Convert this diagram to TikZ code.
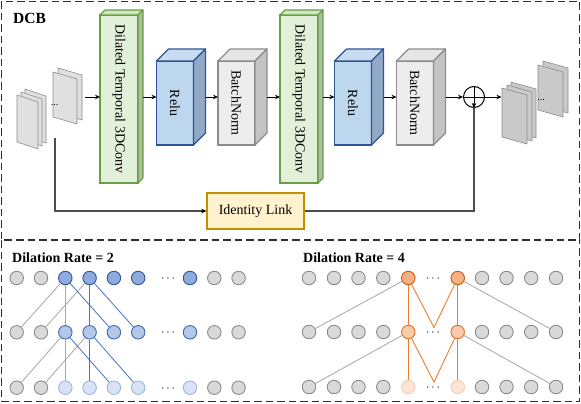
\documentclass[tikz,border=0pt]{standalone}
\usepackage{fontspec}
\setmainfont{Liberation Serif}
\usetikzlibrary{arrows.meta}
\definecolor{dtcfill}{HTML}{E2F0D9}
\definecolor{dtcborder}{HTML}{6A9E45}
\definecolor{dtctop}{HTML}{CFE6BF}
\definecolor{dtcside}{HTML}{A9C09C}
\definecolor{relfill}{HTML}{BDD7EE}
\definecolor{relborder}{HTML}{2F5597}
\definecolor{reltop}{HTML}{C7DCF0}
\definecolor{relside}{HTML}{91A9C6}
\definecolor{bnfill}{HTML}{EDEDED}
\definecolor{bnborder}{HTML}{8C8C8C}
\definecolor{bntop}{HTML}{E6E6E6}
\definecolor{bnside}{HTML}{C4C4C4}
\definecolor{idfill}{HTML}{FFF2CC}
\definecolor{idborder}{HTML}{BF9000}
\definecolor{linkc}{HTML}{4D4D4D}
\definecolor{framec}{HTML}{2E2E2E}
\definecolor{sheetin}{HTML}{E0E0E0}
\definecolor{sheetout}{HTML}{C9C9C9}
\definecolor{sheetb}{HTML}{8C8C8C}
\definecolor{grayf}{HTML}{D9D9D9}
\definecolor{grayb}{HTML}{8C8C8C}
\definecolor{grayl}{HTML}{A6A6A6}
\definecolor{bluef1}{HTML}{8FAADC}
\definecolor{bluef2}{HTML}{B4C7E7}
\definecolor{bluef3}{HTML}{DAE3F3}
\definecolor{blueb1}{HTML}{2F5597}
\definecolor{blueb2}{HTML}{3D68B5}
\definecolor{blueb3}{HTML}{9DB5E3}
\definecolor{bluel}{HTML}{4472C4}
\definecolor{bluell}{HTML}{8FAADC}
\definecolor{orf1}{HTML}{F4B183}
\definecolor{orf2}{HTML}{F8CBAD}
\definecolor{orf3}{HTML}{FBE5D6}
\definecolor{orb1}{HTML}{C55A11}
\definecolor{orb2}{HTML}{E07028}
\definecolor{orb3}{HTML}{F8CBAD}
\definecolor{orl}{HTML}{ED7D31}

\newcommand{\mycuboid}[7]{%
  \node[frontface, draw=#7border, fill=#7fill, minimum width=#4pt, minimum height=#5pt] (#1) at (#2,#3) {};
  \draw[faceline, draw=#7border, fill=#7top] (#1.north west) -- ++(#6,-#6) -- ++(#4,0) -- (#1.north east) -- cycle;
  \draw[faceline, draw=#7border, fill=#7side] (#1.north east) -- ++(#6,-#6) -- ++(0,#5) -- (#1.south east) -- cycle;
}
\newcommand{\mysheet}[6]{%
  \draw[line width=0.6pt, draw=sheetb, fill=#6, line join=round] (#1,#2) -- ++(#3,#5) -- ++(0,#4) -- ++(-#3,-#5) -- cycle;
}

\begin{document}
\begin{tikzpicture}[x=1pt,y=-1pt,
  frontface/.style={line width=1.2pt, inner sep=0pt, outer sep=0pt},
  faceline/.style={line width=1.2pt, line join=round},
  lbl/.style={font=\fontsize{14}{16}\selectfont, rotate=-90, inner sep=0pt},
  arr/.style={-{Stealth[length=5pt,width=4.5pt]}, line width=0.8pt, black},
  link/.style={line width=1.1pt, draw=linkc},
  frame/.style={draw=framec, line width=1.5pt, dash pattern=on 7.5pt off 4pt},
  dot/.style={circle, minimum size=13.5pt, inner sep=0pt, line width=0.9pt},
  grayc/.style={dot, draw=grayb, fill=grayf},
  blueA/.style={dot, draw=blueb1, fill=bluef1},
  blueB/.style={dot, draw=blueb2, fill=bluef2},
  blueC/.style={dot, draw=blueb3, fill=bluef3},
  orA/.style={dot, draw=orb1, fill=orf1},
  orB/.style={dot, draw=orb2, fill=orf2},
  orC/.style={dot, draw=orb3, fill=orf3},
  gline/.style={draw=grayl, line width=0.8pt},
  bline/.style={draw=bluel, line width=0.8pt},
  blline/.style={draw=bluell, line width=1pt},
  oline/.style={draw=orl, line width=0.9pt},
  cdt/.style={font=\fontsize{13}{15}\selectfont, anchor=base, inner sep=0pt},
  title/.style={font=\fontsize{14}{16}\selectfont\bfseries, anchor=base west, inner sep=0pt}
]
\useasboundingbox (0,0) rectangle (581,404);

% frames
\draw[frame] (1.5,1.5) rectangle (579.5,240);
\draw[frame] (1.5,240) -- (1.5,401.5) -- (579.5,401.5) -- (579.5,240);
\node[font=\fontsize{15.5}{17}\selectfont\bfseries, anchor=base west, inner sep=0pt] (dcb) at (13,23.5) {DCB};

% input feature maps
\mysheet{25}{89}{21}{47}{7}{sheetin}
\mysheet{21}{92}{21}{47}{7}{sheetin}
\mysheet{17}{95}{21}{47}{7}{sheetin}
\mysheet{58}{68}{24}{45}{7}{sheetin}
\mysheet{53}{72}{24}{45}{7}{sheetin}
\node[font=\fontsize{10}{12}\selectfont, anchor=base, inner sep=0pt] (indots) at (54.5,106) {...};
\coordinate (inR) at (85,97);
\coordinate (inB) at (55,138);

% blocks
\mycuboid{dtc1}{119}{99}{38}{168}{5}{dtc}
\mycuboid{relu1}{175}{103}{37}{84}{12}{rel}
\mycuboid{bn1}{236.5}{103}{37}{84}{12}{bn}
\mycuboid{dtc2}{299}{99}{38}{168}{5}{dtc}
\mycuboid{relu2}{353}{103}{37}{84}{12}{rel}
\mycuboid{bn2}{415}{103}{37}{84}{12}{bn}
\node[lbl] at (dtc1) {Dilated Temporal 3DConv};
\node[lbl] at (dtc2) {Dilated Temporal 3DConv};
\node[lbl] at (relu1) {Relu};
\node[lbl] at (relu2) {Relu};
\node[lbl] at (bn1) {BatchNorm};
\node[lbl] at (bn2) {BatchNorm};

% adder
\node[circle, draw=black, line width=1pt, minimum size=21pt, inner sep=0pt] (add) at (474,97) {};
\draw[line width=1pt] (add.north) -- (add.south) (add.west) -- (add.east);

% output feature maps
\mysheet{511}{82}{25}{49}{7}{sheetout}
\mysheet{507}{85}{25}{49}{7}{sheetout}
\mysheet{502}{88}{25}{49}{7}{sheetout}
\mysheet{543}{61}{25}{45}{7}{sheetout}
\mysheet{538}{65}{25}{45}{7}{sheetout}
\node[font=\fontsize{10}{12}\selectfont, anchor=base, inner sep=0pt] (outdots) at (541,100) {...};
\coordinate (outL) at (501.5,97);

% arrows
\draw[arr] (inR) -- (dtc1.west |- inR);
\draw[arr] ([xshift=5pt]dtc1.east |- inR) -- (relu1.west |- inR);
\draw[arr] ([xshift=12pt]relu1.east |- inR) -- (bn1.west |- inR);
\draw[arr] ([xshift=12pt]bn1.east |- inR) -- (dtc2.west |- inR);
\draw[arr] ([xshift=5pt]dtc2.east |- inR) -- (relu2.west |- inR);
\draw[arr] ([xshift=12pt]relu2.east |- inR) -- (bn2.west |- inR);
\draw[arr] ([xshift=12pt]bn2.east |- inR) -- (add.west);
\draw[arr] (add.east) -- (outL);

% identity link
\node[draw=idborder, fill=idfill, line width=1.2pt, minimum width=97pt, minimum height=36pt, inner sep=0pt, font=\fontsize{14}{16}\selectfont] (id) at (255.5,211) {Identity Link};
\draw[link] (inB) |- ([xshift=-3pt]id.west);
\draw[arr] ([xshift=-5pt]id.west) -- (id.west);
\draw[link] (id.east) -| ([yshift=5pt]add.south);
\draw[arr] ([yshift=4pt]add.south) -- (add.south);

% ===== Dilation rate 2 =====
\node[title] (t2) at (12,262.5) {Dilation Rate = 2};
\foreach \r/\y/\s in {0/278/blueA,1/332.3/blueB,2/387.7/blueC}{
  \foreach \c/\x in {0/16.7,1/41,8/214.3,9/238.6}
    \node[grayc] (L\r-\c) at (\x,\y) {};
  \foreach \c/\x in {2/65.3,3/89.6,4/113.9,5/138.2,7/190}
    \node[\s] (L\r-\c) at (\x,\y) {};
  \node[cdt] (Ld\r) at (168,\y+3.4) {$\cdots$};
}
\foreach \a in {0,1}{
  \pgfmathtruncatemacro{\b}{\a+1}
  \draw[gline] (L\a-2) -- (L\b-0);
  \draw[gline] (L\a-3) -- (L\b-1);
  \draw[blline] (L\a-2) -- (L\b-2);
  \draw[bline] (L\a-2) -- (L\b-4);
  \draw[bline] (L\a-3) -- (L\b-3);
  \draw[bline] (L\a-3) -- (L\b-5);
}

% ===== Dilation rate 4 =====
\node[title] (t4) at (303,262.5) {Dilation Rate = 4};
\foreach \r/\y/\s in {0/278/orA,1/332/orB,2/387/orC}{
  \foreach \c/\x in {0/309,1/334,2/358.5,3/383.3,7/482,8/506.5,9/531.2,10/556}
    \node[grayc] (R\r-\c) at (\x,\y) {};
  \foreach \c/\x in {4/408.3,6/457.7}
    \node[\s] (R\r-\c) at (\x,\y) {};
  \node[cdt] (Rd\r) at (433,\y+3.4) {$\cdots$};
}
\coordinate (V0) at (434,327.5);
\coordinate (V1) at (434,382);
\foreach \a in {0,1}{
  \pgfmathtruncatemacro{\b}{\a+1}
  \draw[gline] (R\a-4) -- (R\b-0);
  \draw[gline] (R\a-6) -- (R\b-10);
  \draw[oline] (R\a-4) -- (R\b-4);
  \draw[oline] (R\a-6) -- (R\b-6);
  \draw[oline, line join=miter] (R\a-4) -- (V\a) -- (R\a-6);
}
\end{tikzpicture}
\end{document}
